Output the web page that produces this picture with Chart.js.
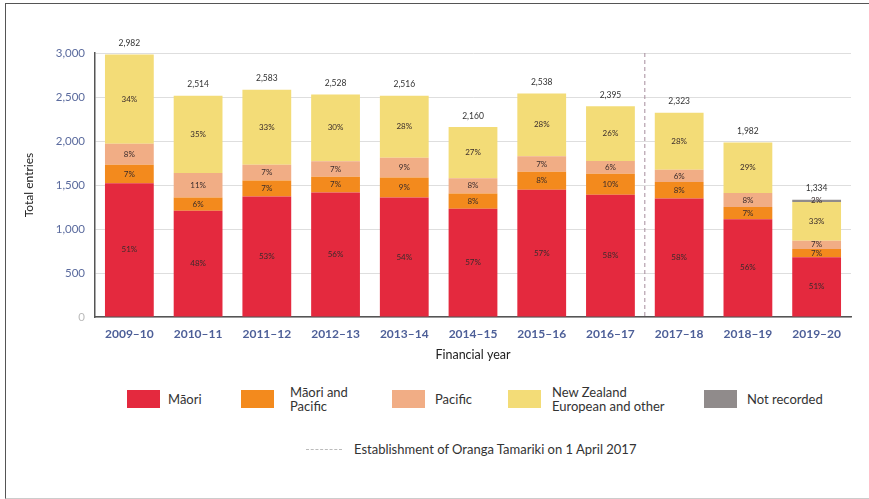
<!DOCTYPE html>
<html>
<head>
<meta charset="utf-8">
<script src="https://cdn.jsdelivr.net/npm/chart.js@4/dist/chart.umd.min.js"></script>
<style>
  html, body { margin: 0; padding: 0; background: #fff; }
  #frame {
    position: absolute; left: 5px; top: 3px; width: 880px; height: 494px;
    border-left: 1.5px solid #555; border-top: 1.5px solid #555; border-bottom: 1px solid #ccc;
  }
  #wrap { position: absolute; left: 0; top: 0; width: 869px; height: 370px; }
  .lg {
    position: absolute; font-family: Lato, "Noto Sans", sans-serif; font-size: 13px; color: #333;
    line-height: 14px; white-space: nowrap;
  }
  .box { position: absolute; width: 33px; height: 18px; top: 390px; }
</style>
</head>
<body>
<div id="frame"></div>
<div id="wrap"><canvas id="chart" width="869" height="370"></canvas></div>

<div class="box" style="left:127px;background:#e4293e"></div>
<div class="lg" style="left:168px;top:392px">Māori</div>
<div class="box" style="left:241px;background:#f38a1d"></div>
<div class="lg" style="left:290px;top:385px">Māori and<br>Pacific</div>
<div class="box" style="left:392px;background:#f1ad85"></div>
<div class="lg" style="left:435px;top:392px">Pacific</div>
<div class="box" style="left:508px;background:#f3dc77"></div>
<div class="lg" style="left:552px;top:385px">New Zealand<br>European and other</div>
<div class="box" style="left:704px;background:#908b8b"></div>
<div class="lg" style="left:747px;top:392px">Not recorded</div>

<div style="position:absolute;left:306px;top:449px;width:36px;border-top:1px dashed #bbb"></div>
<div class="lg" style="left:354px;top:442px">Establishment of Oranga Tamariki on 1 April 2017</div>

<script>
const years = ['2009–10', '2010–11', '2011–12', '2012–13', '2013–14', '2014–15', '2015–16', '2016–17', '2017–18', '2018–19', '2019–20'];
const totals = ['2,982', '2,514', '2,583', '2,528', '2,516', '2,160', '2,538', '2,395', '2,323', '1,982', '1,334'];

// entries per group
const maori       = [1521, 1207, 1369, 1416, 1359, 1231, 1447, 1389, 1347, 1110, 680];
const maoriPac    = [209, 151, 181, 177, 226, 173, 203, 240, 186, 139, 93];
const pacific     = [239, 277, 181, 177, 226, 173, 178, 144, 139, 159, 93];
const nzEuropean  = [1014, 880, 852, 758, 704, 583, 711, 623, 650, 575, 440];
const notRecorded = [0, 0, 0, 0, 0, 0, 0, 0, 0, 0, 27];

// printed percentages
const maoriPct       = ['51%', '48%', '53%', '56%', '54%', '57%', '57%', '58%', '58%', '56%', '51%'];
const maoriPacPct    = ['7%', '6%', '7%', '7%', '9%', '8%', '8%', '10%', '8%', '7%', '7%'];
const pacificPct     = ['8%', '11%', '7%', '7%', '9%', '8%', '7%', '6%', '6%', '8%', '7%'];
const nzEuropeanPct  = ['34%', '35%', '33%', '30%', '28%', '27%', '28%', '26%', '28%', '29%', '33%'];
const notRecordedPct = ['', '', '', '', '', '', '', '', '', '', '2%'];

const pctLabels = [maoriPct, maoriPacPct, pacificPct, nzEuropeanPct, notRecordedPct];

const font = 'Lato, "Noto Sans", sans-serif';

const labelPlugin = {
  id: 'barLabels',
  afterDatasetsDraw: (chart) => {
    const {ctx} = chart;
    ctx.save();
    ctx.font = '8px ' + font;
    ctx.fillStyle = '#3a2c2c';
    ctx.textAlign = 'center';
    ctx.textBaseline = 'middle';
    chart.data.datasets.forEach((ds, di) => {
      chart.getDatasetMeta(di).data.forEach((bar, i) => {
        const txt = pctLabels[di][i];
        if (!txt) return;
        ctx.fillText(txt, bar.x, (bar.y + bar.base) / 2);
      });
    });
    // totals above the stacks
    const top = chart.getDatasetMeta(chart.data.datasets.length - 1).data;
    ctx.font = '8.5px ' + font;
    ctx.fillStyle = '#333';
    top.forEach((bar, i) => {
      ctx.fillText(totals[i], bar.x, bar.y - 11);
    });
    // dashed line for Oranga Tamariki
    const x = chart.scales.x;
    const lx = (x.getPixelForTick(7) + x.getPixelForTick(8)) / 2;
    ctx.strokeStyle = '#a58d9c';
    ctx.lineWidth = 1;
    ctx.setLineDash([4, 3]);
    ctx.beginPath();
    ctx.moveTo(lx, chart.chartArea.top);
    ctx.lineTo(lx, chart.chartArea.bottom);
    ctx.stroke();
    ctx.restore();
  }
};

const mk = (label, data, color) => ({
  label, data, backgroundColor: color, borderWidth: 0,
  barPercentage: 0.71, categoryPercentage: 1.0
});

new Chart(document.getElementById('chart'), {
  type: 'bar',
  data: {
    labels: years,
    datasets: [
      mk('Māori', maori, '#e4293e'),
      mk('Māori and Pacific', maoriPac, '#f38a1d'),
      mk('Pacific', pacific, '#f1ad85'),
      mk('New Zealand European and other', nzEuropean, '#f3dc77'),
      mk('Not recorded', notRecorded, '#908b8b'),
    ]
  },
  options: {
    responsive: false,
    animation: false,
    layout: {padding: {top: 53, right: 18, left: 0, bottom: 0}},
    plugins: {legend: {display: false}, tooltip: {enabled: false}},
    scales: {
      x: {
        stacked: true,
        grid: {display: false},
        border: {display: true, color: '#555', width: 1.5},
        ticks: {color: '#4d5f98', font: {family: font, size: 12, weight: 'bold'}, padding: 2, maxRotation: 0},
        title: {display: true, text: 'Financial year', color: '#222', font: {family: font, size: 12.5}, padding: {top: 0, bottom: 8}},
        afterFit: (s) => { s.height = 53; }
      },
      y: {
        stacked: true,
        min: 0, max: 3000,
        grid: {color: '#dedede', drawTicks: false},
        border: {display: true, color: '#555', width: 1.5},
        ticks: {
          stepSize: 500, padding: 10,
          color: (c) => c.tick.value === 0 ? '#bbb' : '#5b6b9e',
          font: {family: font, size: 11.5},
          callback: (v) => v.toLocaleString('en-US')
        },
        title: {display: true, text: 'Total entries', color: '#222', font: {family: font, size: 12}, padding: {top: 22, bottom: 0}},
        afterFit: (s) => { s.width = 95; }
      }
    }
  },
  plugins: [labelPlugin]
});
</script>
</body>
</html>
